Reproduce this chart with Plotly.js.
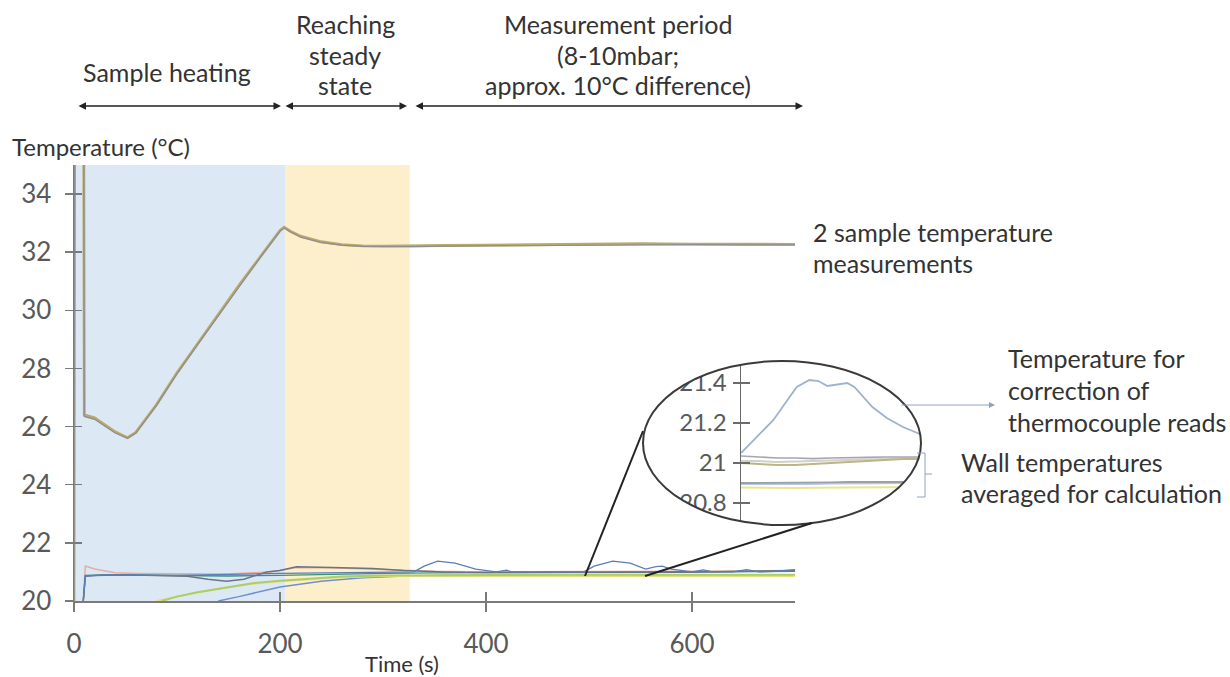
<!DOCTYPE html>
<html>
<head>
<meta charset="utf-8">
<script src="https://cdn.plot.ly/plotly-3.0.1.min.js"></script>
<style>html,body{margin:0;padding:0;background:#fff;}#chart{width:1230px;height:677px;}</style>
</head>
<body>
<div id="chart"></div>
<script>
// ---------------- DATA ----------------
// phases (s)
const phaseStart = [0, 205];
const phaseEnd = [205, 326];
const phaseColors = ['#dde8f5', '#fdefcb'];

const xTicks = [0, 200, 400, 600];
const yTicks = [20, 22, 24, 26, 28, 30, 32, 34];
const insetTicks = [20.8, 21, 21.2, 21.4];
const insetTickText = ['20.8', '21', '21.2', '21.4'];

// sample temperature 1
const sample1Time = [0, 1, 9, 10, 20, 30, 40, 52, 60, 80, 100, 120, 140, 160, 180, 200, 204, 210, 220, 240, 260, 280, 300, 330, 360, 400, 450, 500, 550, 600, 650, 700];
const sample1Temp = [20, 45, 45, 26.4, 26.3, 26.05, 25.82, 25.62, 25.8, 26.75, 27.85, 28.85, 29.85, 30.85, 31.8, 32.75, 32.86, 32.72, 32.55, 32.36, 32.26, 32.22, 32.21, 32.21, 32.23, 32.24, 32.26, 32.28, 32.29, 32.28, 32.27, 32.27];
// sample temperature 2
const sample2Time = [0, 1, 9, 10, 20, 30, 40, 52, 60, 80, 100, 120, 140, 160, 180, 200, 204, 210, 220, 240, 260, 280, 300, 330, 360, 400, 450, 500, 550, 600, 650, 700];
const sample2Temp = [20, 45, 45, 26.35, 26.25, 26.0, 25.78, 25.6, 25.78, 26.72, 27.82, 28.82, 29.82, 30.82, 31.78, 32.72, 32.83, 32.7, 32.52, 32.33, 32.24, 32.2, 32.19, 32.19, 32.21, 32.22, 32.24, 32.26, 32.27, 32.26, 32.25, 32.25];

// wall temperatures
const wallPinkTime = [9, 11, 20, 40, 60, 100, 150, 190, 200, 215, 250, 290, 320, 350, 400, 500, 600, 700];
const wallPinkTemp = [20, 21.2, 21.1, 20.97, 20.95, 20.95, 20.93, 21.0, 21.05, 21.14, 21.14, 21.1, 21.05, 21.02, 21.0, 21.0, 21.02, 21.05];

const wallDarkTime = [9, 11, 20, 50, 80, 110, 130, 148, 165, 187, 200, 216, 250, 290, 320, 360, 400, 500, 600, 700];
const wallDarkTemp = [20, 20.85, 20.88, 20.9, 20.88, 20.85, 20.75, 20.68, 20.75, 21.0, 21.05, 21.18, 21.15, 21.12, 21.05, 21.0, 20.98, 20.98, 20.99, 21.05];

const wallTealTime = [9, 11, 30, 80, 150, 200, 250, 300, 350, 400, 500, 600, 700];
const wallTealTemp = [20, 20.88, 20.9, 20.88, 20.86, 20.88, 20.92, 20.95, 20.97, 20.98, 20.98, 21.0, 21.02];

const correctionTime = [9, 11, 30, 100, 200, 300, 330, 340, 353, 370, 390, 410, 420, 425, 440, 480, 495, 505, 523, 540, 555, 565, 571, 580, 600, 611, 620, 640, 653, 665, 680, 700];
const correctionTemp = [20, 20.86, 20.9, 20.88, 20.95, 20.98, 21.0, 21.2, 21.37, 21.3, 21.1, 21.0, 21.06, 21.0, 21.0, 21.0, 21.0, 21.2, 21.37, 21.3, 21.1, 21.18, 21.2, 21.1, 21.0, 21.07, 21.0, 21.0, 21.08, 21.0, 21.02, 21.08];

const wallGreenTime = [85, 100, 120, 150, 175, 200, 230, 260, 300, 350, 400, 500, 600, 700];
const wallGreenTemp = [20, 20.15, 20.3, 20.48, 20.62, 20.7, 20.78, 20.84, 20.88, 20.89, 20.9, 20.9, 20.9, 20.9];

const wallYellowTime = [80, 95, 115, 145, 170, 200, 230, 260, 300, 350, 400, 500, 600, 700];
const wallYellowTemp = [20, 20.12, 20.27, 20.45, 20.58, 20.68, 20.76, 20.82, 20.86, 20.87, 20.86, 20.86, 20.86, 20.86];

const wallBlueTime = [140, 160, 200, 240, 280, 320, 360, 400, 500, 600, 700];
const wallBlueTemp = [20, 20.15, 20.48, 20.68, 20.8, 20.86, 20.89, 20.9, 20.9, 20.9, 20.9];

// zoomed inset (relative time units)
const insetTime = [0, 10, 18, 27, 31, 38, 43, 48, 59, 63, 73, 81, 90, 98, 100];
const insetCorrection = [21.05, 21.14, 21.215, 21.33, 21.38, 21.415, 21.41, 21.385, 21.4, 21.38, 21.28, 21.225, 21.18, 21.15, 21.14];
const insetWallTime = [0, 10, 20, 30, 40, 50, 60, 70, 80, 90, 100];
const insetWallA = [21.035, 21.03, 21.025, 21.025, 21.022, 21.025, 21.025, 21.028, 21.03, 21.03, 21.03];
const insetWallB = [21.0, 20.995, 20.99, 20.99, 20.995, 21.0, 21.005, 21.01, 21.015, 21.02, 21.02];
const insetWallC = [21.01, 21.01, 21.005, 21.008, 21.01, 21.012, 21.015, 21.018, 21.02, 21.022, 21.022];
const insetWallD = [20.9, 20.9, 20.9, 20.9, 20.902, 20.903, 20.905, 20.905, 20.905, 20.905, 20.905];
const insetWallE = [20.895, 20.895, 20.893, 20.893, 20.895, 20.897, 20.898, 20.898, 20.9, 20.9, 20.9];
const insetWallF = [20.878, 20.876, 20.875, 20.875, 20.876, 20.877, 20.878, 20.878, 20.879, 20.88, 20.88];

// text lines
const phaseLabels = [['Sample heating'], ['Reaching', 'steady', 'state'], ['Measurement period', '(8-10mbar;', 'approx. 10°C difference)']];
const sampleNote = ['2 sample temperature', 'measurements'];
const correctionNote = ['Temperature for', 'correction of', 'thermocouple reads'];
const wallNote = ['Wall temperatures', 'averaged for calculation'];
const yTitle = 'Temperature (°C)';
const xTitle = 'Time (s)';

// ---------------- LAYOUT HELPERS ----------------
const W = 1230, H = 677;
const px = x => x / W;
const py = y => 1 - y / H;
const FONT = 'Lato, "Open Sans", sans-serif';

function line(x, y, color, width, xa, ya) {
  return {x: x, y: y, type: 'scatter', mode: 'lines', line: {color: color, width: width},
          xaxis: xa || 'x', yaxis: ya || 'y', hoverinfo: 'skip', showlegend: false};
}

const traces = [
  line(wallBlueTime, wallBlueTemp, '#6f8fd0', 1.5),
  line(wallYellowTime, wallYellowTemp, '#e7df7c', 2),
  line(wallGreenTime, wallGreenTemp, '#a8cf6c', 2),
  line(wallPinkTime, wallPinkTemp, '#e8ad9e', 1.5),
  line(wallTealTime, wallTealTemp, '#3f8f7a', 1.3),
  line(wallDarkTime, wallDarkTemp, '#6b7487', 1.5),
  line(correctionTime, correctionTemp, '#5a7fb8', 1.3),
  line(sample1Time, sample1Temp, '#b8a96e', 2.8),
  line(sample2Time, sample2Temp, '#8e8e8e', 1.2),
  // inset
  line(insetWallTime, insetWallF, '#e9e68a', 2, 'x2', 'y2'),
  line(insetWallTime, insetWallE, '#b9c7e6', 2, 'x2', 'y2'),
  line(insetWallTime, insetWallD, '#9c9fa6', 1.8, 'x2', 'y2'),
  line(insetWallTime, insetWallC, '#d2d2c0', 2, 'x2', 'y2'),
  line(insetWallTime, insetWallB, '#bdb48a', 2, 'x2', 'y2'),
  line(insetWallTime, insetWallA, '#a7a3b8', 1.6, 'x2', 'y2'),
  line(insetTime, insetCorrection, '#9fb2cc', 1.8, 'x2', 'y2'),
  // helper empty traces for crossing ticks
  {x: [], y: [], type: 'scatter', xaxis: 'x3', yaxis: 'y3', showlegend: false, hoverinfo: 'skip'},
  {x: [], y: [], type: 'scatter', xaxis: 'x2', yaxis: 'y4', showlegend: false, hoverinfo: 'skip'}
];

const xDom = [px(74), px(795)];
const yDom = [py(601), py(165)];
const insetXDom = [px(741), px(921)];
const insetYDom = [py(525), py(361)];

const axisColor = '#7a7a7a';
const tickFont = {family: FONT, size: 26, color: '#595959'};

// ellipse geometry (pixels)
const ecx = 782, ecy = 443, erx = 139, ery = 82, K = 0.5523;
function ellipsePath() {
  const cx = px(ecx), cy = py(ecy), rx = erx / W, ry = ery / H;
  const p = (a, b) => a.toFixed(5) + ',' + b.toFixed(5);
  return 'M' + p(cx + rx, cy) +
    ' C' + p(cx + rx, cy + K * ry) + ' ' + p(cx + K * rx, cy + ry) + ' ' + p(cx, cy + ry) +
    ' C' + p(cx - K * rx, cy + ry) + ' ' + p(cx - rx, cy + K * ry) + ' ' + p(cx - rx, cy) +
    ' C' + p(cx - rx, cy - K * ry) + ' ' + p(cx - K * rx, cy - ry) + ' ' + p(cx, cy - ry) +
    ' C' + p(cx + K * rx, cy - ry) + ' ' + p(cx + rx, cy - K * ry) + ' ' + p(cx + rx, cy) + ' Z';
}
const maskRect = 'M' + px(630) + ',' + py(350) + ' H' + px(925) + ' V' + py(535) + ' H' + px(630) + ' Z ';

const shapes = [];
for (let i = 0; i < phaseStart.length; i++) {
  shapes.push({type: 'rect', xref: 'x', yref: 'paper', x0: phaseStart[i], x1: phaseEnd[i],
               y0: yDom[0], y1: yDom[1], fillcolor: phaseColors[i], line: {width: 0}, layer: 'below'});
}
shapes.push({type: 'path', xref: 'paper', yref: 'paper', path: maskRect + ellipsePath(),
             fillcolor: '#ffffff', fillrule: 'evenodd', line: {width: 0}, layer: 'above'});
shapes.push({type: 'circle', xref: 'paper', yref: 'paper', x0: px(ecx - erx), x1: px(ecx + erx),
             y0: py(ecy + ery), y1: py(ecy - ery), line: {color: '#3a3a3a', width: 2}, layer: 'above'});
// connector lines to zoom ellipse
shapes.push({type: 'line', xref: 'paper', yref: 'paper', x0: px(585), y0: py(576), x1: px(643), y1: py(431),
             line: {color: '#222', width: 2}, layer: 'above'});
shapes.push({type: 'line', xref: 'paper', yref: 'paper', x0: px(645), y0: py(576), x1: px(812), y1: py(523),
             line: {color: '#222', width: 2}, layer: 'above'});
// bracket
shapes.push({type: 'path', xref: 'paper', yref: 'paper',
             path: 'M' + px(917) + ',' + py(453) + ' H' + px(925) + ' V' + py(474) + ' H' + px(932) +
                   ' M' + px(925) + ',' + py(474) + ' V' + py(497) + ' H' + px(917),
             line: {color: '#8ea2bf', width: 1}, layer: 'above'});

const txt = {family: FONT, size: 25, color: '#333333'};
const annotations = [];
function addLines(lines, x, yPositions, xanchor, size) {
  lines.forEach((t, i) => {
    annotations.push({xref: 'paper', yref: 'paper', showarrow: false, text: t,
      x: px(x), y: py(yPositions[i]), xanchor: xanchor, yanchor: 'middle',
      font: Object.assign({}, txt, size ? {size: size} : {})});
  });
}
addLines(phaseLabels[0], 167, [72], 'center');
addLines(phaseLabels[1], 345, [24, 55, 85], 'center');
addLines(phaseLabels[2], 618, [24, 55, 85], 'center');
addLines(sampleNote, 811, [232, 263], 'left');
addLines(correctionNote, 1006, [358, 390, 422], 'left');
addLines(wallNote, 959, [462, 493], 'left');
addLines([yTitle], 10, [146], 'left', 24);
addLines([xTitle], 402, [663], 'center', 22);

// top double arrows
[[77, 281], [284, 407], [414, 803]].forEach(([a, b]) => {
  annotations.push({xref: 'paper', yref: 'paper', x: px(b), y: py(106), ax: -(b - a), ay: 0, text: '',
    showarrow: true, arrowside: 'end+start', arrowhead: 2, startarrowhead: 2, arrowsize: 1, startarrowsize: 1,
    arrowwidth: 1.5, arrowcolor: '#222'});
});
// inset pointer arrow
annotations.push({xref: 'paper', yref: 'paper', x: px(995), y: py(405), ax: -95, ay: 0, text: '',
  showarrow: true, arrowhead: 2, arrowsize: 1.2, arrowwidth: 1, arrowcolor: '#8ea2bf'});

const layout = {
  width: W, height: H,
  margin: {l: 0, r: 0, t: 0, b: 0},
  paper_bgcolor: '#ffffff', plot_bgcolor: 'rgba(0,0,0,0)',
  showlegend: false,
  font: {family: FONT},
  xaxis: {domain: xDom, range: [0, 700], anchor: 'y', showgrid: false, zeroline: false,
          showline: true, linecolor: axisColor, linewidth: 1.5, ticks: 'outside', ticklen: 9,
          tickcolor: axisColor, tickwidth: 1.5, tickvals: xTicks, tickfont: tickFont, ticklabelstandoff: 10},
  xaxis3: {domain: xDom, range: [0, 700], overlaying: 'x', anchor: 'y', showgrid: false, zeroline: false,
           showline: false, ticks: 'inside', ticklen: 9, tickcolor: axisColor, tickwidth: 1.5,
           tickvals: xTicks, showticklabels: false},
  yaxis: {domain: yDom, range: [20, 35], anchor: 'x', showgrid: false, zeroline: false,
          showline: true, linecolor: axisColor, linewidth: 1.5, ticks: 'outside', ticklen: 8,
          tickcolor: axisColor, tickwidth: 1.5, tickvals: yTicks, tickfont: tickFont, ticklabelstandoff: 8},
  yaxis3: {domain: yDom, range: [20, 35], overlaying: 'y', anchor: 'x', showgrid: false, zeroline: false,
           showline: false, ticks: 'inside', ticklen: 8, tickcolor: axisColor, tickwidth: 1.5,
           tickvals: yTicks, showticklabels: false},
  xaxis2: {domain: insetXDom, range: [0, 100], anchor: 'y2', showgrid: false, zeroline: false,
           showline: false, ticks: '', showticklabels: false},
  yaxis2: {domain: insetYDom, range: [20.69, 21.51], anchor: 'x2', showgrid: false, zeroline: false,
           showline: true, linecolor: '#6a6a6a', linewidth: 1.5, ticks: 'outside', ticklen: 7,
           tickcolor: '#6a6a6a', tickwidth: 1.5, tickvals: insetTicks, ticktext: insetTickText,
           tickfont: {family: FONT, size: 24, color: '#595959'}, ticklabelstandoff: 1},
  yaxis4: {domain: insetYDom, range: [20.69, 21.51], overlaying: 'y2', anchor: 'x2', showgrid: false, zeroline: false,
           showline: false, ticks: 'inside', ticklen: 9, tickcolor: '#6a6a6a', tickwidth: 1.5,
           tickvals: insetTicks, showticklabels: false},
  shapes: shapes,
  annotations: annotations
};

Plotly.newPlot('chart', traces, layout, {staticPlot: true, displayModeBar: false});
</script>
</body>
</html>
